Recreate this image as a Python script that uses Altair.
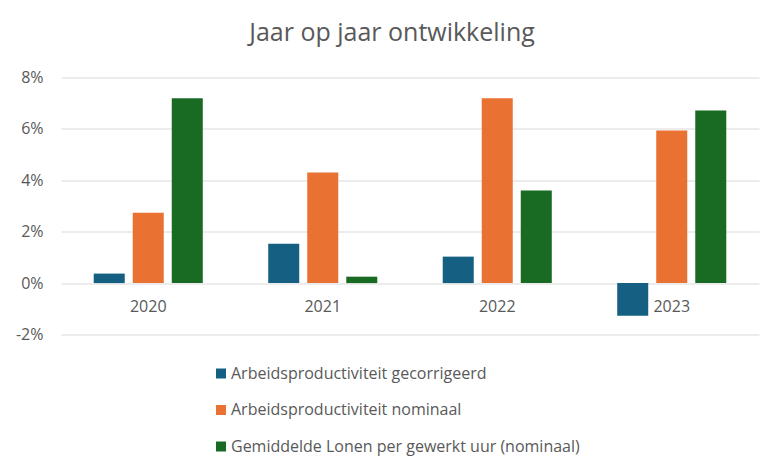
import altair as alt
import pandas as pd

years = ["2020", "2021", "2022", "2023"]
series = [
    "Arbeidsproductiviteit gecorrigeerd",
    "Arbeidsproductiviteit nominaal",
    "Gemiddelde Lonen per gewerkt uur (nominaal)",
]
gecorrigeerd = [0.37, 1.53, 1.03, -1.27]
nominaal = [2.74, 4.30, 7.19, 5.94]
lonen = [7.19, 0.25, 3.60, 6.72]
colors = ["#156082", "#E97132", "#196B24"]
y_ticks = [-2, 0, 2, 4, 6, 8]

rows = []
for name, vals in zip(series, [gecorrigeerd, nominaal, lonen]):
    for yr, v in zip(years, vals):
        rows.append({"jaar": yr, "reeks": name, "waarde": v})
df = pd.DataFrame(rows)

FONT = "Open Sans"
TXT = "#595959"

chart = alt.Chart(df).mark_bar().encode(
    x=alt.X(
        "jaar:N",
        sort=years,
        title=None,
        scale=alt.Scale(paddingInner=0.375, paddingOuter=0.1875),
        axis=alt.Axis(
            labelAngle=0, domain=False, ticks=False, labelPadding=0,
            offset=-36, labelFontSize=16, labelColor=TXT, labelFont=FONT,
        ),
    ),
    xOffset=alt.XOffset("reeks:N", sort=series, scale=alt.Scale(paddingInner=0.205, paddingOuter=0)),
    y=alt.Y(
        "waarde:Q",
        title=None,
        scale=alt.Scale(domain=[-2, 8], nice=False, zero=True),
        axis=alt.Axis(
            values=y_ticks, labelExpr="datum.value + '%'", domain=False, ticks=False,
            labelPadding=18, labelFontSize=16, labelColor=TXT, labelFont=FONT,
            gridColor="#d9d9d9", gridWidth=1,
        ),
    ),
    color=alt.Color(
        "reeks:N",
        sort=series,
        scale=alt.Scale(domain=series, range=colors),
        legend=alt.Legend(
            title=None, orient="none", legendX=152, legendY=288, direction="vertical",
            symbolType="square", symbolSize=100, symbolStrokeWidth=0,
            labelFontSize=16, labelColor=TXT, labelFont=FONT, labelLimit=500,
            rowPadding=20.5, labelOffset=2,
        ),
    ),
).properties(
    width=698,
    height=257,
    autosize=alt.AutoSizeParams(type="none"),
    padding={"left": 53, "top": 69.5, "right": 16, "bottom": 129.5},
    title=alt.TitleParams(
        "Jaar op jaar ontwikkeling", fontSize=25, font=FONT, color=TXT,
        fontWeight="normal", anchor="middle", dx=-18, offset=24,
    ),
).configure_view(stroke=None)

chart.save("out.html", embed_options={"renderer": "svg", "actions": False})
